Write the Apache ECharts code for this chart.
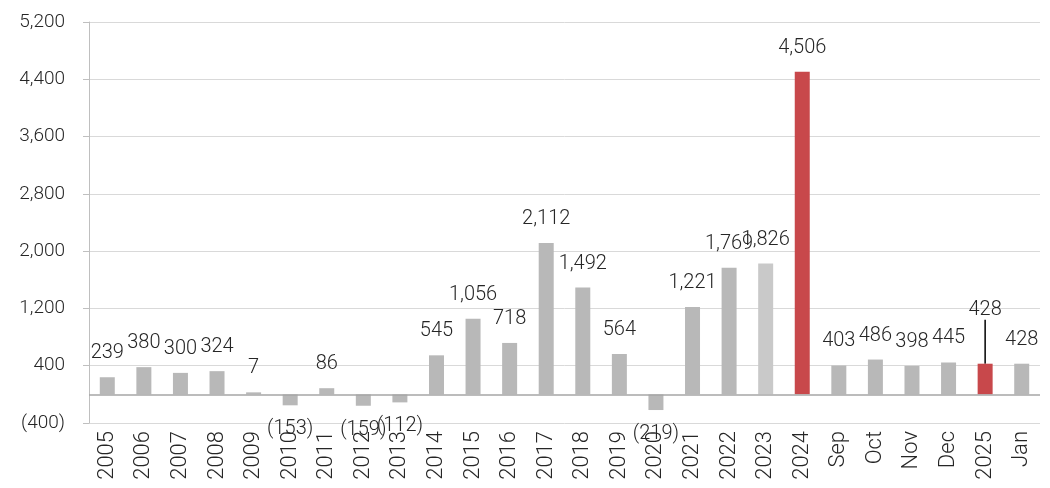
<!DOCTYPE html>
<html>
<head>
<meta charset="utf-8">
<script src="https://cdn.jsdelivr.net/npm/echarts@6/dist/echarts.min.js"></script>
<style>
  html, body { margin: 0; padding: 0; background: #fff; }
  #chart { width: 1050px; height: 488px; }
</style>
</head>
<body>
<div id="chart"></div>
<script>
// Period labels along the x axis
const categories = ['2005', '2006', '2007', '2008', '2009', '2010', '2011', '2012', '2013',
  '2014', '2015', '2016', '2017', '2018', '2019', '2020', '2021', '2022', '2023', '2024',
  'Sep', 'Oct', 'Nov', 'Dec', '2025', 'Jan'];

// Value for each period
const values = [239, 380, 300, 324, 7, -153, 86, -159, -112,
  545, 1056, 718, 2112, 1492, 564, -219, 1221, 1769, 1826, 4506,
  403, 486, 398, 445, 428, 428];

// Periods shown in the highlight colour, and the lighter one
const highlighted = ['2024', '2025'];
const lighter = ['2023'];
// Period whose label is lifted and tied back to its bar with a leader line
const raisedLabel = ['2025'];

// Value axis range and step
const yMin = -400, yMax = 5200, yStep = 800;

const GRAY = '#b8b8b8', LIGHT = '#c9c9c9', RED = '#c8484b', TEXT = '#262626';
const FONT = 'Roboto, "Liberation Sans", sans-serif';

function fmt(v) {
  const s = Math.abs(v).toLocaleString('en-US');
  return v < 0 ? '(' + s + ')' : s;
}

const seriesData = values.map((v, i) => {
  const cat = categories[i];
  const color = highlighted.includes(cat) ? RED : (lighter.includes(cat) ? LIGHT : GRAY);
  const item = { value: v, itemStyle: { color } };
  if (v < 0) item.label = { position: 'bottom' };
  if (raisedLabel.includes(cat)) {
    item.labelLine = { show: true, lineStyle: { color: '#000', width: 1.5 } };
  }
  return item;
});

const chart = echarts.init(document.getElementById('chart'), null, { renderer: 'canvas' });
chart.setOption({
  animation: false,
  backgroundColor: '#ffffff',
  grid: { left: 89, right: 10, top: 22, bottom: 65, containLabel: false },
  xAxis: {
    type: 'category',
    data: categories,
    axisLine: { show: false, onZero: false },
    axisTick: { show: false },
    axisLabel: {
      rotate: 90, color: TEXT, fontSize: 22, fontFamily: FONT, fontWeight: 300,
      margin: 8, interval: 0
    }
  },
  yAxis: {
    type: 'value',
    min: yMin, max: yMax, interval: yStep,
    axisLine: { show: true, lineStyle: { color: '#bfbfbf', width: 1 } },
    axisTick: { show: true, length: 6, lineStyle: { color: '#bfbfbf' } },
    splitLine: { show: true, lineStyle: { color: '#d9d9d9', width: 1 } },
    axisLabel: {
      color: TEXT, fontSize: 19, fontFamily: FONT, fontWeight: 300, margin: 24,
      formatter: fmt
    }
  },
  series: [{
    type: 'bar',
    data: seriesData,
    barWidth: 15,
    barMinHeight: 2,
    label: {
      show: true, position: 'top', distance: 14,
      color: TEXT, fontSize: 20, fontFamily: FONT, fontWeight: 300,
      formatter: p => fmt(p.value)
    },
    labelLayout: p => raisedLabel.includes(categories[p.dataIndex]) ? { dy: -30 } : {},
    markLine: {
      silent: true, symbol: 'none',
      label: { show: false },
      lineStyle: { color: '#a6a6a6', width: 1.5, type: 'solid' },
      data: [{ yAxis: 0 }]
    }
  }]
});
</script>
</body>
</html>
